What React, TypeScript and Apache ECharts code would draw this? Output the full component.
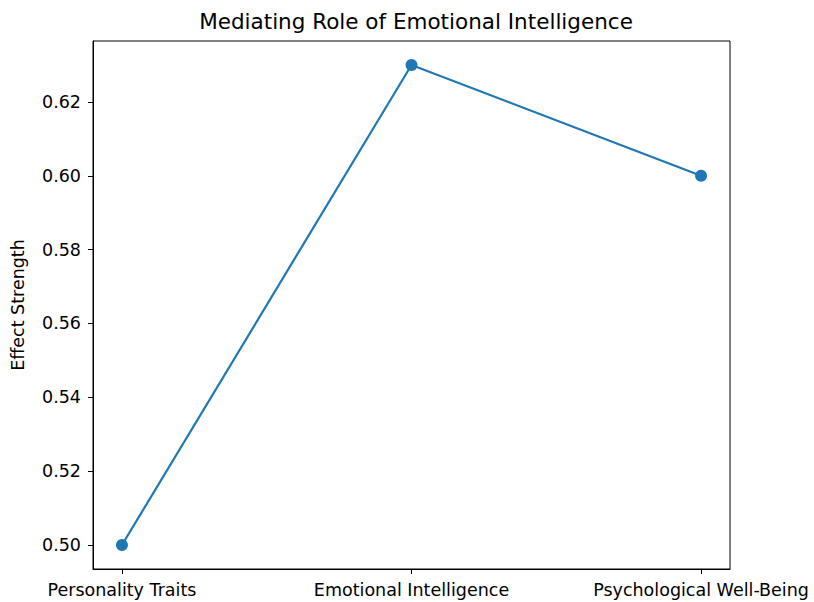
import React, { useEffect, useRef } from "react";
import * as echarts from "echarts";

const categories = ["Personality Traits", "Emotional Intelligence", "Psychological Well-Being"];
const effectValues = [0.5, 0.63, 0.6];
const yTicks = [0.5, 0.52, 0.54, 0.56, 0.58, 0.6, 0.62];
const titleText = "Mediating Role of Emotional Intelligence";
const yAxisName = "Effect Strength";

export default function App() {
  const ref = useRef<HTMLDivElement>(null);
  useEffect(() => {
    const chart = echarts.init(ref.current!, null, { renderer: "svg" });
    const font = "DejaVu Sans";
    chart.setOption({
      animation: false,
      backgroundColor: "#fff",
      title: {
        text: titleText,
        left: 411,
        top: 5,
        textAlign: "center",
        textStyle: { fontFamily: font, fontSize: 21.5, fontWeight: "normal", color: "#000" },
      },
      grid: {
        left: 93,
        right: 84,
        top: 41,
        bottom: 33,
        show: true,
        borderColor: "#000",
        borderWidth: 1,
        backgroundColor: "transparent",
      },
      xAxis: {
        type: "value",
        min: -0.1,
        max: 2.1,
        splitLine: { show: false },
        axisLine: { show: true, onZero: false, lineStyle: { color: "#000", width: 1 } },
        axisTick: { show: true, length: 5, lineStyle: { color: "#000" }, customValues: [0, 1, 2] },
        axisLabel: {
          show: true,
          customValues: [0, 1, 2],
          formatter: (v: number) => categories[Math.round(v)] ?? "",
          fontFamily: font,
          fontSize: 17.5,
          color: "#000",
          margin: 12,
        },
      },
      yAxis: {
        type: "value",
        min: 0.4935,
        max: 0.6365,
        name: yAxisName,
        nameLocation: "middle",
        nameGap: 66,
        nameRotate: 90,
        nameTextStyle: { fontFamily: font, fontSize: 17.5, color: "#000" },
        splitLine: { show: false },
        axisLine: { show: true, onZero: false, lineStyle: { color: "#000", width: 1 } },
        axisTick: { show: true, length: 5, lineStyle: { color: "#000" }, customValues: yTicks },
        axisLabel: {
          show: true,
          customValues: yTicks,
          formatter: (v: number) => v.toFixed(2),
          fontFamily: font,
          fontSize: 17.5,
          color: "#000",
          margin: 12,
        },
      },
      series: [
        {
          type: "line",
          data: effectValues.map((v, i) => [i, v]),
          symbol: "circle",
          symbolSize: 12,
          lineStyle: { color: "#1f77b4", width: 2.2 },
          itemStyle: { color: "#1f77b4" },
        },
      ],
    });
    return () => chart.dispose();
  }, []);
  return <div ref={ref} style={{ width: 814, height: 602, position: "absolute", left: 0, top: 0 }} />;
}
